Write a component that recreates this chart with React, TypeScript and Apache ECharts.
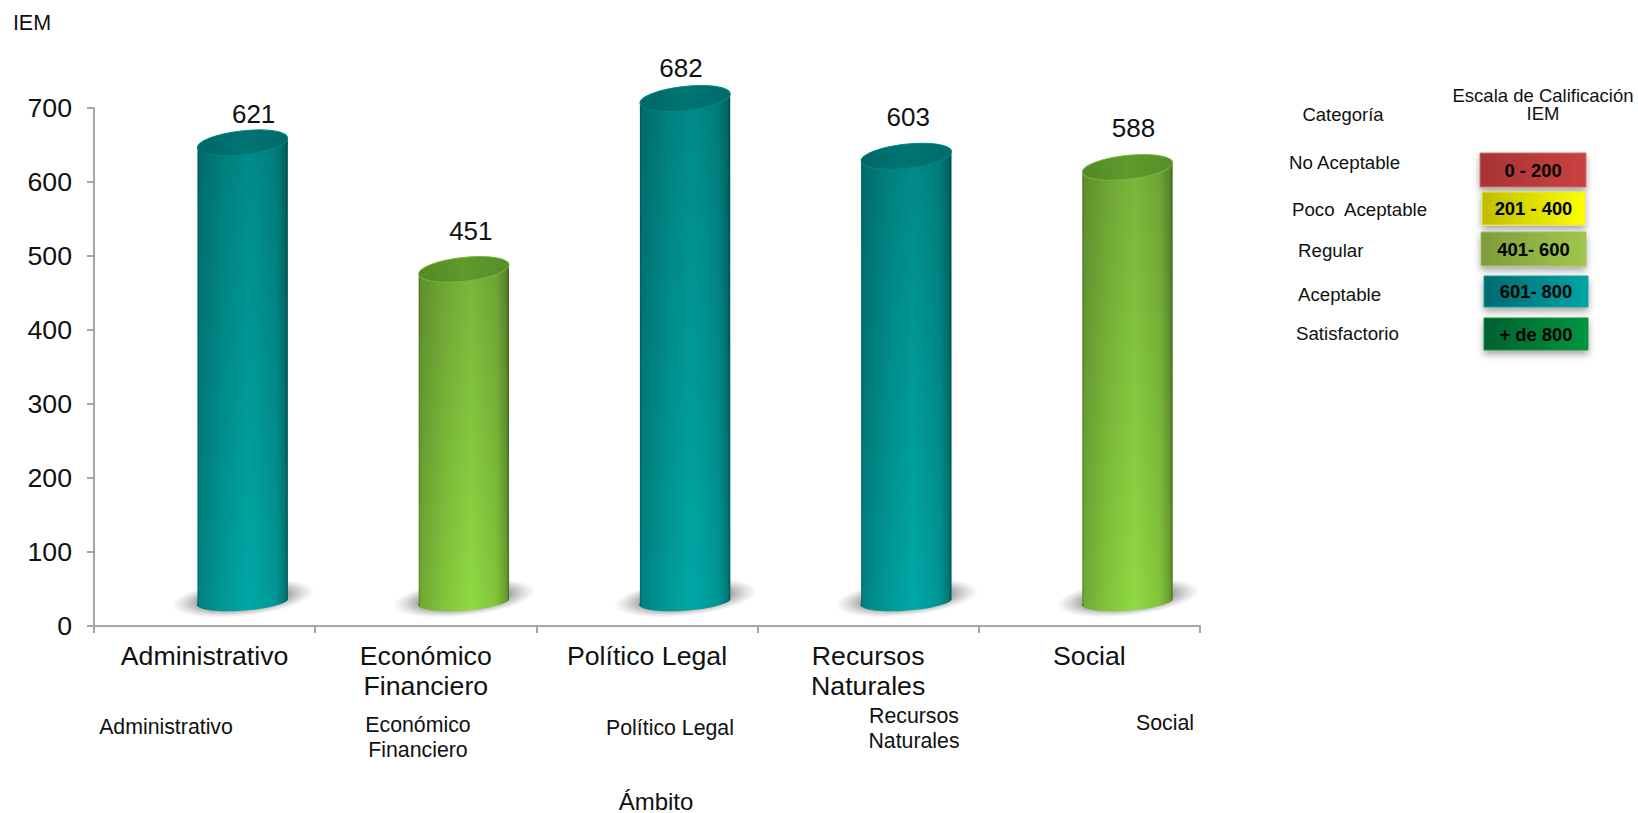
import React, { useEffect, useRef } from "react";
import * as echarts from "echarts";

const categories = ["Administrativo", "Económico\nFinanciero", "Político Legal", "Recursos\nNaturales", "Social"];
const iemValues = [621, 451, 682, 603, 588];
// Where the cylinders' top and bottom centres sit when read on the value axis
const barTops = [653, 482, 713, 635, 620];
const barBases = [35, 35, 35, 35, 35];

const scaleCategories = ["No Aceptable", "Poco  Aceptable", "Regular", "Aceptable", "Satisfactorio"];
const scaleRanges = ["0 - 200", "201 - 400", "401- 600", "601- 800", "+ de 800"];

const FONT = "'Liberation Sans', Arial, sans-serif";

// layout only
const labelNudge = [[11, -29], [7, -38.5], [-4, -30.5], [2, -39], [6, -39]];
const subLabelPos = [[166, 727], [418, 737], [670, 728], [914, 728], [1165, 723]];
const scaleLabelPos = [[1289, 162], [1292, 209], [1298, 250], [1298, 294], [1296, 333]];
const scaleBoxes = [[1480, 153, 106, 34], [1482, 192, 103, 33], [1481, 232, 105, 34], [1484, 276, 104, 31], [1484, 318, 104, 32]];
const scaleFills = [
  ["#a63535", "#cc4040"],
  ["#bdbd00", "#ffff00"],
  ["#7d9c3c", "#a0c84a"],
  ["#006a70", "#00a5a5"],
  ["#006030", "#00963f"],
];
const scaleStrokes = ["#d07070", "#e8e840", "#a4c060", "#10a0a0", "#10903f"];

const palette = (v: number) =>
  v > 600
    ? { top: "#007472", topRim: "#008a88", upper: "#008a88", lower: "#00a8a6" }
    : { top: "#5e9a2c", topRim: "#7cba3c", upper: "#79b53a", lower: "#90da42" };

const renderCylinder = (params: any, api: any) => {
  const i = api.value(0);
  const bandCenter = api.coord([i, 0])[0];
  const band = api.size([1, 0])[0];
  const cx = bandCenter + band * 0.172;
  const halfW = band * 0.204;
  const yTop = api.coord([i, api.value(1)])[1];
  const yBase = api.coord([i, api.value(2)])[1];
  const val = api.value(3);
  const tiltTop = 5;
  const tiltBase = 3;
  const c = palette(val);
  const L = cx - halfW;
  const R = cx + halfW;
  const rotBase = (-Math.atan(tiltBase / halfW) * 180) / Math.PI;
  const rxTop = Math.hypot(halfW, tiltTop);
  const rxBase = Math.hypot(halfW, tiltBase);
  const body = `M${L} ${yTop + tiltTop} L${L} ${yBase + tiltBase} A${rxBase} 9 ${rotBase} 0 0 ${R} ${yBase - tiltBase} L${R} ${yTop - tiltTop} Z`;
  const vertical = new echarts.graphic.LinearGradient(0, 0, 0, 1, [
    { offset: 0, color: c.upper },
    { offset: 1, color: c.lower },
  ]);
  const shade = new echarts.graphic.LinearGradient(0, 0, 1, 0, [
    { offset: 0, color: "rgba(0,0,0,0.45)" },
    { offset: 0.03, color: "rgba(0,0,0,0.22)" },
    { offset: 0.3, color: "rgba(0,0,0,0.09)" },
    { offset: 0.58, color: "rgba(0,0,0,0)" },
    { offset: 0.86, color: "rgba(0,0,0,0.1)" },
    { offset: 0.97, color: "rgba(0,0,0,0.28)" },
    { offset: 1, color: "rgba(0,0,0,0.5)" },
  ]);
  const shadow = new echarts.graphic.RadialGradient(0.5, 0.5, 0.5, [
    { offset: 0, color: "rgba(95,95,95,0.95)" },
    { offset: 0.6, color: "rgba(125,125,125,0.75)" },
    { offset: 1, color: "rgba(170,170,170,0)" },
  ]);
  const topFill = new echarts.graphic.LinearGradient(0, 0, 1, 0, [
    { offset: 0, color: "rgba(0,0,0,0.12)" },
    { offset: 0.5, color: "rgba(0,0,0,0)" },
    { offset: 1, color: "rgba(0,0,0,0.08)" },
  ]);
  const topEllipse = {
    type: "ellipse",
    shape: { cx, cy: yTop, rx: rxTop, ry: 12 },
    rotation: Math.atan(tiltTop / halfW),
    originX: cx,
    originY: yTop,
  };
  return {
    type: "group",
    children: [
      {
        type: "ellipse",
        shape: { cx, cy: yBase - 2, rx: 72, ry: 18 },
        rotation: (6 * Math.PI) / 180,
        originX: cx,
        originY: yBase - 2,
        style: { fill: shadow },
      },
      { type: "path", shape: { pathData: body }, style: { fill: vertical } },
      { type: "path", shape: { pathData: body }, style: { fill: shade } },
      { ...topEllipse, style: { fill: c.top, stroke: c.topRim, lineWidth: 1 } },
      { ...topEllipse, style: { fill: topFill } },
      {
        type: "text",
        style: {
          x: cx + labelNudge[i][0],
          y: yTop + labelNudge[i][1],
          text: String(val),
          font: `26px ${FONT}`,
          fill: "#111",
          align: "center",
          verticalAlign: "middle",
        },
      },
    ],
  };
};

const plainText = (x: number, y: number, text: string, size: number, align = "center", weight = "normal", lineHeight = 25) => ({
  type: "text",
  x,
  y,
  style: {
    text,
    font: `${weight} ${size}px ${FONT}`,
    fill: weight === "bold" ? "#000" : "#111",
    align,
    verticalAlign: "middle",
    lineHeight,
  },
});

export default function App() {
  const ref = useRef<HTMLDivElement>(null);
  useEffect(() => {
    document.body.style.margin = "0";
    const chart = echarts.init(ref.current!, undefined, { renderer: "svg" });
    const graphics: any[] = [
      plainText(32, 23, "IEM", 21.5),
      plainText(656, 801, "Ámbito", 24),
      plainText(1343, 114, "Categoría", 18.5),
      plainText(1543, 104, "Escala de Calificación\nIEM", 18.5, "center", "normal", 18),
    ];
    categories.forEach((c, i) => {
      graphics.push(plainText(subLabelPos[i][0], subLabelPos[i][1], c, 21.3));
    });
    scaleCategories.forEach((c, i) => {
      graphics.push(plainText(scaleLabelPos[i][0], scaleLabelPos[i][1], c, 18.7, "left"));
    });
    scaleRanges.forEach((r, i) => {
      const [x, y, w, h] = scaleBoxes[i];
      graphics.push({
        type: "rect",
        shape: { x, y, width: w, height: h },
        style: {
          fill: new echarts.graphic.LinearGradient(0, 0, 1, 0, [
            { offset: 0, color: scaleFills[i][0] },
            { offset: 1, color: scaleFills[i][1] },
          ]),
          stroke: scaleStrokes[i],
          lineWidth: 1,
          shadowBlur: 7,
          shadowOffsetY: 4,
          shadowColor: "rgba(0,0,0,0.35)",
        },
      });
      graphics.push(plainText(x + w / 2, y + h / 2, r, 18.4, "center", "bold"));
    });
    chart.setOption({
      animation: false,
      backgroundColor: "#fff",
      textStyle: { fontFamily: FONT },
      grid: { left: 94, top: 108, width: 1106, height: 518, containLabel: false },
      xAxis: {
        type: "category",
        data: categories,
        boundaryGap: true,
        axisLine: { lineStyle: { color: "#a6a6a6", width: 2 } },
        axisTick: { show: true, alignWithLabel: false, length: 7, lineStyle: { color: "#a6a6a6", width: 2 } },
        axisLabel: { interval: 0, fontSize: 26.7, color: "#111", margin: 15, lineHeight: 30, fontFamily: FONT },
      },
      yAxis: {
        type: "value",
        min: 0,
        max: 700,
        interval: 100,
        splitLine: { show: false },
        axisLine: { show: true, lineStyle: { color: "#a6a6a6", width: 2 } },
        axisTick: { show: true, length: 7, lineStyle: { color: "#a6a6a6", width: 2 } },
        axisLabel: { fontSize: 26.7, color: "#111", margin: 22, fontFamily: FONT },
      },
      series: [
        {
          type: "custom",
          clip: false,
          renderItem: renderCylinder,
          encode: { x: 0, y: 1 },
          data: categories.map((_, i) => [i, barTops[i], barBases[i], iemValues[i]]),
        },
      ],
      graphic: graphics,
    });
    return () => chart.dispose();
  }, []);
  return <div ref={ref} style={{ width: 1638, height: 813, overflow: "hidden" }} />;
}
